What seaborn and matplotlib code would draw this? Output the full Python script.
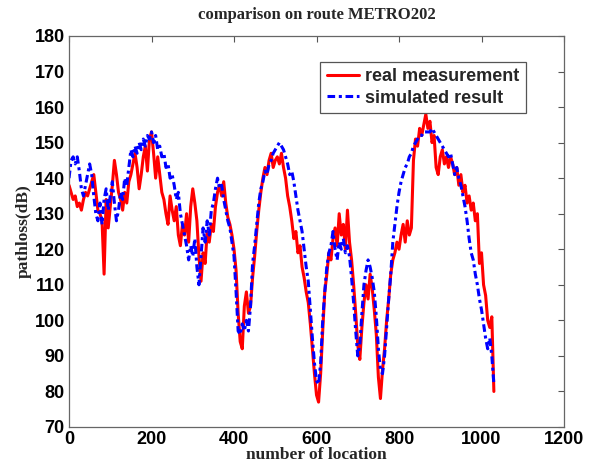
import numpy as np
import pandas as pd
import matplotlib
matplotlib.use('Agg')
import matplotlib.pyplot as plt
import seaborn as sns

# location index, every 5th location from 0 to 1030
location = np.arange(0, 1035, 5)

real_measurement = [
    138, 136, 134, 135, 132, 133, 131, 134, 136, 135, 137,
    139, 141, 136, 131, 130, 128, 113, 134, 126, 132,
    138, 145, 141, 136, 134, 131, 136, 133, 139, 141,
    144, 147, 143, 137, 141, 146, 149, 142, 151, 153,
    147, 140, 146, 141, 136, 134, 130, 127, 135, 131,
    128, 132, 124, 121, 127, 124, 130, 122, 132, 137,
    133, 128, 118, 111, 119, 116, 125, 122, 127, 125,
    132, 136, 138, 135, 139, 133, 129, 127, 124, 120,
    114, 102, 94, 92, 104, 108, 102, 104, 112, 118,
    125, 131, 136, 140, 143, 141, 145, 147, 143, 145,
    146, 144, 147, 143, 140, 135, 132, 128, 123, 125,
    119, 121, 115, 112, 108, 105, 99, 92, 85, 79,
    77, 85, 97, 108, 113, 119, 117, 123, 126, 121,
    130, 124, 127, 120, 131, 122, 117, 110, 102, 93,
    89, 98, 105, 110, 106, 113, 109, 103, 96, 84,
    78, 86, 92, 100, 106, 113, 117, 119, 122, 120,
    124, 127, 122, 128, 124, 126, 145, 151, 149, 154,
    152, 155, 158, 154, 156, 150, 152, 143, 141, 146,
    148, 144, 146, 143, 146, 144, 141, 143, 138, 141,
    136, 138, 133, 135, 131, 133, 128, 130, 116, 119,
    110, 107, 100, 98, 101, 80,
]

# simulated result (dB)
simulated_result = [
    140, 145, 146, 144, 146, 142, 137, 135, 138, 141, 144,
    141, 135, 130, 128, 133, 127, 134, 137, 131, 135,
    139, 133, 128, 131, 136, 134, 140, 138, 143, 148,
    146, 149, 147, 150, 148, 151, 149, 152, 151, 153,
    150, 152, 148, 149, 146, 147, 143, 144, 140, 141,
    138, 134, 136, 130, 127, 124, 121, 117, 121, 118,
    123, 115, 110, 118, 126, 122, 128, 124, 131, 133,
    137, 140, 137, 138, 134, 131, 128, 126, 122, 118,
    108, 97, 96, 99, 97, 100, 97, 104, 116, 121,
    127, 133, 137, 139, 142, 141, 144, 145, 147, 148,
    149, 150, 149, 148, 146, 144, 141, 142, 139, 135,
    131, 128, 125, 120, 115, 111, 103, 95, 88, 83,
    82, 88, 100, 108, 115, 119, 121, 125, 120, 117,
    122, 120, 123, 119, 121, 118, 112, 105, 97, 90,
    93, 102, 110, 114, 117, 115, 112, 108, 101, 92,
    86, 85, 90, 98, 106, 113, 122, 127, 132, 136,
    139, 141, 143, 144, 146, 147, 149, 150, 151, 152,
    152, 153, 153, 153, 153, 154, 153, 152, 151, 150,
    149, 148, 147, 146, 147, 144, 141, 143, 140, 138,
    135, 132, 128, 123, 119, 117, 113, 110, 106, 103,
    99, 95, 92, 95, 90, 82,
]

sns.set_style('white')
plt.rcParams['font.family'] = ['Liberation Sans', 'DejaVu Sans']

fig = plt.figure(figsize=(5.93, 4.70), dpi=100)
ax = fig.add_axes([0.1164, 0.0915, 0.8347, 0.832])

sns.lineplot(x=location, y=real_measurement, color='#ff0000', linewidth=2.2,
             estimator=None, label='real measurement', ax=ax)
sns.lineplot(x=location, y=simulated_result, color='#0000ff', linewidth=2.2,
             dashes=False, estimator=None, label='simulated result', ax=ax)
ax.lines[1].set_dashes([2.5, 1.2, 1, 1.2])

ax.set_xlim(0, 1200)
ax.set_ylim(70, 180)
ax.set_xticks(range(0, 1201, 200))
ax.set_yticks(range(70, 181, 10))
ax.tick_params(direction='in', length=4, width=0.8, top=True, right=True,
               labelsize=13, pad=3, colors='#555555', labelcolor='black')
for lab in ax.get_xticklabels() + ax.get_yticklabels():
    lab.set_fontweight('bold')
for sp in ax.spines.values():
    sp.set_color('#666666')
    sp.set_linewidth(0.9)

serif = ['Liberation Serif', 'DejaVu Serif']
ax.set_title('comparison on route METRO202', fontsize=12, fontweight='bold',
             family=serif, pad=12)
ax.set_xlabel('number of location', fontsize=12.5, fontweight='bold',
              family=serif, labelpad=-1)
ax.set_ylabel('pathloss(dB)', fontsize=12.5, fontweight='bold',
              family=serif, labelpad=2)

leg = ax.legend(loc='upper right', bbox_to_anchor=(0.923, 0.9335), borderaxespad=0,
                fancybox=False, framealpha=1, edgecolor='#555555', handlelength=1.8,
                handletextpad=0.35, borderpad=0.35, labelspacing=0.25,
                prop={'weight': 'bold', 'size': 13})
leg.get_frame().set_linewidth(0.9)
leg.get_lines()[1].set_dashes([2.5, 1.2, 1, 1.2])

fig.savefig('out.png', dpi=100)
